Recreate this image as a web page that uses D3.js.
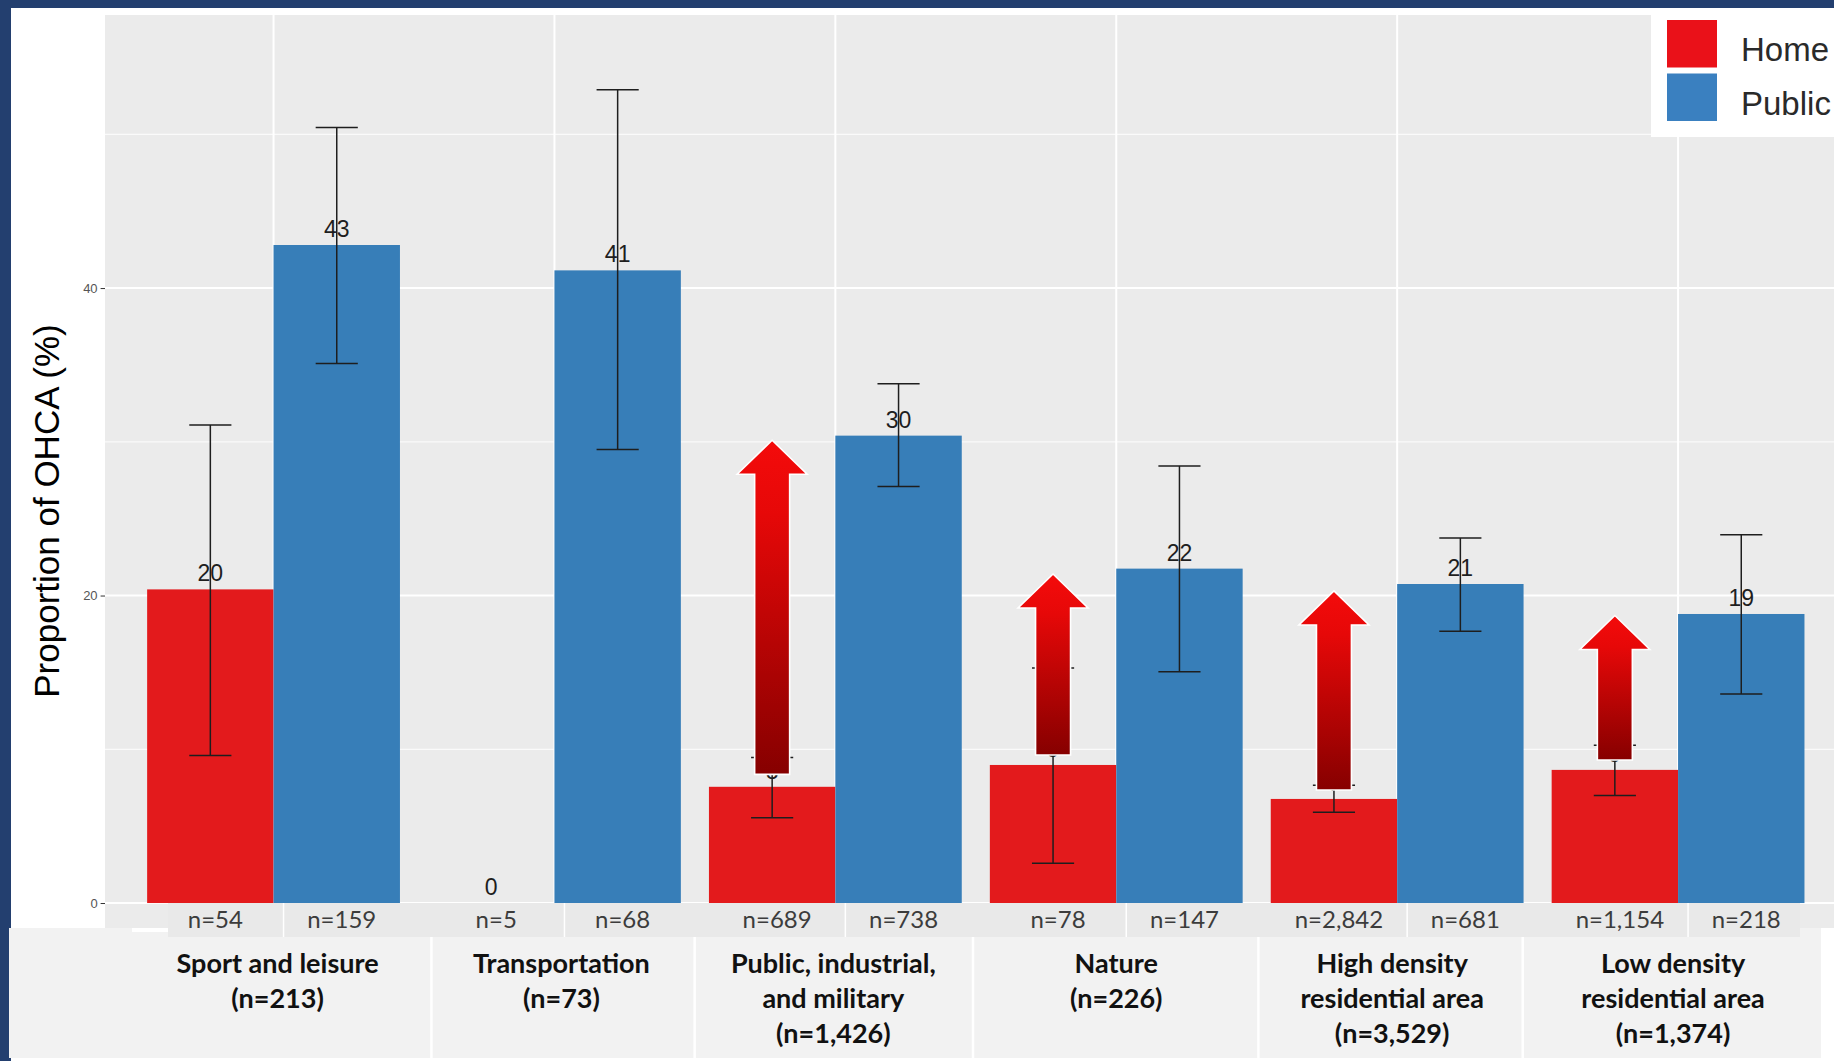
<!DOCTYPE html>
<html><head><meta charset="utf-8">
<script src="https://cdn.jsdelivr.net/npm/d3@7"></script>
<style>html,body{margin:0;padding:0;background:#fff;overflow:hidden}</style>
</head><body>
<svg id="chart" width="1834" height="1061"></svg>
<script>
// ---------------- data ----------------
const categories = ["Sport and leisure", "Transportation", "Public, industrial,\nand military", "Nature", "High density\nresidential area", "Low density\nresidential area"];
const categoryTotals = [213, 73, 1426, 226, 3529, 1374];
const groups = ["Home", "Public"];
const homeValues = [20.4, 0, 7.56, 8.98, 6.77, 8.66];
const homeLower  = [9.6, null, 5.55, 2.59, 5.9, 7.0];
const homeUpper  = [31.09, null, 9.47, 15.28, 7.66, 10.26];
const homeN      = [54, 5, 689, 78, 2842, 1154];
const publicValues = [42.8, 41.15, 30.4, 21.75, 20.75, 18.8];
const publicLower  = [35.1, 29.5, 27.1, 15.05, 17.67, 13.6];
const publicUpper  = [50.45, 52.9, 33.78, 28.43, 23.74, 23.96];
const publicN      = [159, 68, 738, 147, 681, 218];
const yTicks = [0, 20, 40];
const yMinorTicks = [10, 30, 50];
const yTitle = "Proportion of OHCA (%)";
// annotation arrows (from / to, in % units) over the Home bars
const arrowCategories = [categories[2], categories[3], categories[4], categories[5]];
const arrowFrom = [8.37, 9.63, 7.35, 9.3];
const arrowTo   = [30.1, 21.4, 20.3, 18.7];
// layout of the pasted label table (in category steps from the first category centre)
const bandSplits = [0.562, 1.499, 2.49, 3.506, 4.447];
const catLabelShift = [4, 7, -2, 0, -5, -5];

// ---------------- layout / styles ----------------
const W = 1834, H = 1061;
const colors = {Home: "#e31a1c", Public: "#377eb8"};
const legendColors = {Home: "#ea1119", Public: "#3a80c0"};
const panel = {left: 105, top: 15, bottom: 945};

const svg = d3.select("#chart");

const x = d3.scaleBand().domain(categories).range([105, 1846.6]).paddingInner(0).paddingOuter(0.1);
const step = x.step();
const xSub = d3.scaleBand().domain(groups).range([-0.45 * step, 0.45 * step]);
const y = d3.scaleLinear().domain([-2.73, 57.76]).range([panel.bottom, panel.top]);
const cx = c => x(c) + x.bandwidth() / 2;
const barCx = (c, g) => cx(c) + xSub(g) + xSub.bandwidth() / 2;

const records = [];
categories.forEach((c, i) => {
  records.push({cat: c, group: "Home", value: homeValues[i], lo: homeLower[i], hi: homeUpper[i], n: homeN[i]});
  records.push({cat: c, group: "Public", value: publicValues[i], lo: publicLower[i], hi: publicUpper[i], n: publicN[i]});
});

// frame
svg.append("rect").attr("width", W).attr("height", H).attr("fill", "#233f6f");
svg.append("rect").attr("x", 11).attr("y", 8).attr("width", W - 11).attr("height", H - 8).attr("fill", "#ffffff");

// panel
const defs = svg.append("defs");
defs.append("clipPath").attr("id", "pclip").append("rect")
  .attr("x", panel.left).attr("y", panel.top).attr("width", W - panel.left).attr("height", panel.bottom - panel.top);
const grad = defs.append("linearGradient").attr("id", "arrowGrad")
  .attr("x1", 0).attr("y1", 0).attr("x2", 0).attr("y2", 1);
grad.append("stop").attr("offset", "0%").attr("stop-color", "#f40b0b");
grad.append("stop").attr("offset", "22%").attr("stop-color", "#e60808");
grad.append("stop").attr("offset", "100%").attr("stop-color", "#860000");

const pg = svg.append("g").attr("clip-path", "url(#pclip)");
pg.append("rect").attr("x", panel.left).attr("y", panel.top).attr("width", W - panel.left).attr("height", panel.bottom - panel.top).attr("fill", "#ebebeb");
pg.selectAll("line.minor").data(yMinorTicks).join("line")
  .attr("x1", panel.left).attr("x2", W).attr("y1", d => y(d)).attr("y2", d => y(d))
  .attr("stroke", "#fafafa").attr("stroke-width", 1.3);
pg.selectAll("line.major").data(yTicks).join("line")
  .attr("x1", panel.left).attr("x2", W).attr("y1", d => y(d)).attr("y2", d => y(d))
  .attr("stroke", "#ffffff").attr("stroke-width", 2);
pg.selectAll("line.vmajor").data(categories).join("line")
  .attr("x1", d => cx(d)).attr("x2", d => cx(d)).attr("y1", panel.top).attr("y2", panel.bottom)
  .attr("stroke", "#ffffff").attr("stroke-width", 2);

// bars
pg.selectAll("rect.bar").data(records).join("rect")
  .attr("x", d => cx(d.cat) + xSub(d.group)).attr("width", xSub.bandwidth())
  .attr("y", d => y(d.value)).attr("height", d => y(0) - y(d.value))
  .attr("fill", d => colors[d.group]);

// value labels
pg.selectAll("text.val").data(records).join("text")
  .attr("x", d => barCx(d.cat, d.group)).attr("y", d => y(d.value) - 8)
  .attr("text-anchor", "middle")
  .style("font-family", "'Liberation Sans', Arial, sans-serif").style("font-size", "23px")
  .attr("fill", "#1e1e1e")
  .text(d => d3.format(".0f")(d.value));

// error bars
const capW = xSub.bandwidth() / 3;
const eb = pg.selectAll("g.err").data(records.filter(d => d.lo != null)).join("g")
  .attr("stroke", "#1e1e1e").attr("stroke-width", 1.5);
eb.append("line").attr("x1", d => barCx(d.cat, d.group)).attr("x2", d => barCx(d.cat, d.group))
  .attr("y1", d => y(d.lo)).attr("y2", d => y(d.hi));
eb.append("line").attr("x1", d => barCx(d.cat, d.group) - capW / 2).attr("x2", d => barCx(d.cat, d.group) + capW / 2)
  .attr("y1", d => y(d.lo)).attr("y2", d => y(d.lo));
eb.append("line").attr("x1", d => barCx(d.cat, d.group) - capW / 2).attr("x2", d => barCx(d.cat, d.group) + capW / 2)
  .attr("y1", d => y(d.hi)).attr("y2", d => y(d.hi));

// arrows
const headHalf = 35, headLen = 34, shaftHalf = 17.5;
const arrows = arrowCategories.map((c, i) => ({cat: c, from: arrowFrom[i], to: arrowTo[i]}));
pg.selectAll("path.arrow").data(arrows).join("path")
  .attr("d", d => {
    const ax = barCx(d.cat, "Home"), yt = y(d.to), yb = y(d.from);
    return d3.line()([[ax - shaftHalf, yb], [ax - shaftHalf, yt + headLen], [ax - headHalf, yt + headLen], [ax, yt],
      [ax + headHalf, yt + headLen], [ax + shaftHalf, yt + headLen], [ax + shaftHalf, yb]]) + "Z";
  })
  .attr("fill", "url(#arrowGrad)").attr("stroke", "#ffffff").attr("stroke-width", 1.6).attr("stroke-linejoin", "miter");

// y axis
const yAxis = svg.append("g").attr("transform", `translate(${panel.left},0)`)
  .call(d3.axisLeft(y).tickValues(yTicks).tickSize(4.4).tickPadding(3).tickFormat(d3.format("d")));
yAxis.select(".domain").remove();
yAxis.selectAll(".tick line").attr("stroke", "#333333").attr("stroke-width", 1);
yAxis.selectAll(".tick text").attr("fill", "#555555")
  .style("font-family", "'Liberation Sans', Arial, sans-serif").style("font-size", "13px");

svg.append("text").attr("transform", "translate(59,511) rotate(-90)")
  .attr("text-anchor", "middle")
  .style("font-family", "'Liberation Sans', Arial, sans-serif").style("font-size", "35px")
  .attr("fill", "#000000").text(yTitle);

// legend
const lg = svg.append("g");
lg.append("rect").attr("x", 1651).attr("y", 15).attr("width", W - 1651).attr("height", 122).attr("fill", "#ffffff");
groups.forEach((g, i) => {
  lg.append("rect").attr("x", 1667).attr("y", 20 + i * 53.5).attr("width", 50).attr("height", 47.5).attr("fill", legendColors[g]);
  lg.append("text").attr("x", 1741).attr("y", 61 + i * 53.5)
    .style("font-family", "'Liberation Sans', Arial, sans-serif").style("font-size", "33px")
    .attr("fill", "#2a2a2a").text(g);
});

// bottom label table
const x0 = cx(categories[0]);
svg.append("rect").attr("x", 9).attr("y", 928).attr("width", 1823 - 9).attr("height", 1058 - 928).attr("fill", "#f2f2f2");
svg.append("rect").attr("x", 132).attr("y", 928).attr("width", 36).attr("height", 4).attr("fill", "#ffffff");
svg.append("rect").attr("x", 1821).attr("y", 928).attr("width", W - 1821).attr("height", H - 928).attr("fill", "#ffffff");
svg.append("rect").attr("x", 132).attr("y", 1058).attr("width", W - 132).attr("height", 3).attr("fill", "#ffffff");
svg.append("rect").attr("x", 0).attr("y", 928).attr("width", 9).attr("height", H - 928).attr("fill", "#233f6f");
svg.selectAll("line.bsep").data(bandSplits).join("line")
  .attr("x1", d => x0 + d * step).attr("x2", d => x0 + d * step).attr("y1", 930).attr("y2", 1058)
  .attr("stroke", "#ffffff").attr("stroke-width", 2.5);

svg.append("rect").attr("x", 168).attr("y", 903).attr("width", 1800 - 168).attr("height", 34).attr("fill", "#e9e9e9");
svg.selectAll("line.nsep").data(categories).join("line")
  .attr("x1", d => cx(d) + 10).attr("x2", d => cx(d) + 10).attr("y1", 903).attr("y2", 937)
  .attr("stroke", "#ffffff").attr("stroke-width", 1.5);

svg.selectAll("text.nlab").data(records).join("text")
  .attr("x", d => barCx(d.cat, d.group) + 5).attr("y", 928)
  .attr("text-anchor", "middle")
  .style("font-family", "Lato, 'Open Sans', sans-serif").style("font-size", "24px")
  .attr("fill", "#3c3c3c")
  .text(d => "n=" + d3.format(",")(d.n));

const catLab = svg.selectAll("text.cat").data(categories).join("text")
  .attr("text-anchor", "middle")
  .style("font-family", "Lato, 'Open Sans', sans-serif").style("font-size", "27px").style("font-weight", "700")
  .attr("fill", "#111111");
catLab.each(function(d, i) {
  const lines = d.split("\n").concat(["(n=" + d3.format(",")(categoryTotals[i]) + ")"]);
  d3.select(this).selectAll("tspan").data(lines).join("tspan")
    .attr("x", cx(d) + catLabelShift[i]).attr("y", (l, j) => 973 + j * 35).text(l => l);
});
</script>
</body></html>
